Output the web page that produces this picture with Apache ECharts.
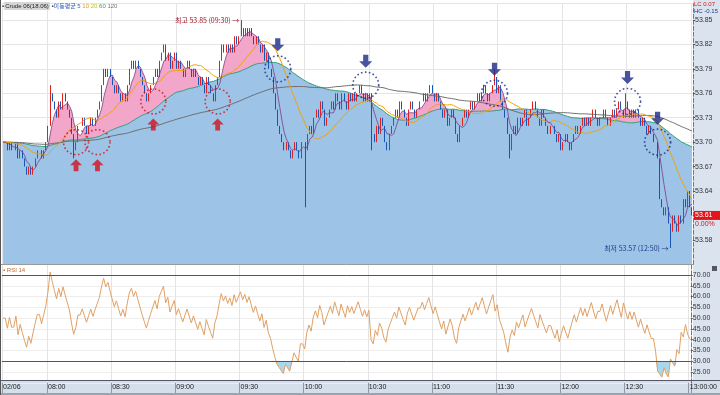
<!DOCTYPE html>
<html><head><meta charset="utf-8">
<script src="https://cdn.jsdelivr.net/npm/echarts@6/dist/echarts.min.js"></script>
<style>html,body{margin:0;padding:0;background:#fff}#c{width:720px;height:395px}</style>
</head><body><div id="c"></div>
<script>
// ---------- data ----------
const dateLabel = '02/06';
const startTime = '07:39';
const closes = [
53.70,53.70,53.69,53.70,53.69,53.69,53.70,53.68,53.69,53.68,53.67,53.66,53.67,53.66,
53.67,53.68,53.69,53.69,53.68,53.69,53.70,
53.72,53.76,53.75,
53.74,53.73,53.75,53.74,53.76,53.75,53.74,53.73,
53.71,53.69,53.70,
53.72,53.72,53.73,53.72,53.71,53.72,53.73,53.72,53.73,
53.74,53.75,
53.77,53.79,53.78,53.79,53.78,
53.77,53.76,53.77,53.76,53.75,53.76,53.75,
53.77,53.79,53.80,53.79,53.80,53.79,53.78,
53.77,53.76,53.75,53.76,
53.77,53.78,53.79,53.78,53.80,
53.81,53.82,53.80,53.81,53.79,53.80,53.81,
53.79,53.80,53.79,53.78,53.79,53.80,53.79,53.78,53.79,53.78,53.77,53.78,
53.77,53.76,53.78,53.77,53.76,53.75,53.77,
53.78,53.80,53.82,53.81,53.82,53.81,53.82,
53.81,53.83,53.82,53.83,53.84,53.83,53.84,
53.83,53.84,53.83,53.82,
53.83,53.82,53.81,53.82,53.80,53.81,53.79,
53.78,53.76,53.74,53.72,53.71,53.70,53.69,
53.70,53.69,53.68,53.69,53.70,53.69,53.68,
53.70,53.70,53.69,53.71,53.72,53.71,53.73,
53.74,53.73,53.75,53.74,53.72,53.73,53.74,
53.75,53.74,53.76,53.75,53.74,53.76,53.75,53.74,53.76,53.75,
53.76,53.75,53.76,53.77,53.76,53.75,53.76,53.75,53.76,
53.71,53.70,53.72,53.71,53.73,53.72,53.70,53.69,53.71,
53.72,53.73,53.74,53.73,53.75,53.74,53.73,53.72,53.74,53.75,53.74,53.73,53.74,53.75,
53.75,53.76,53.75,53.76,53.77,53.76,53.75,53.76,53.75,53.74,
53.73,53.74,53.72,53.73,53.74,53.73,53.71,53.70,53.72,53.73,53.74,53.73,53.74,53.75,
53.74,53.75,53.76,53.75,53.76,53.77,53.76,53.75,53.76,
53.77,53.78,53.76,53.77,53.75,
53.74,53.73,53.71,53.69,53.71,53.72,53.71,53.73,53.72,
53.73,53.74,53.72,53.73,53.74,53.75,53.74,53.73,53.72,53.74,53.73,53.72,53.71,53.72,
53.72,53.71,53.70,53.71,53.69,53.70,53.71,53.70,53.69,53.70,53.71,53.72,53.71,53.72,
53.73,53.72,53.73,53.72,53.73,53.74,53.73,53.72,53.73,
53.73,53.74,53.73,53.72,53.73,53.74,53.73,53.74,53.75,53.74,
53.73,53.75,53.74,53.73,53.74,53.73,53.74,53.73,53.72,
53.73,53.72,53.71,53.72,
53.71,53.70,53.70,53.68,53.63,
53.62,53.61,53.62,53.60,53.59,53.61,
53.60,53.59,53.61,53.60,
53.63,53.62,53.64,53.62,53.61
];
// average price level before the visible window (at the left edge)
const priorLevel = 53.70;
// visible wicks beyond the bodies (bar index -> price)
const wickHighs = {22:53.77, 75:53.82, 111:53.85, 229:53.79, 290:53.76};
const wickLows  = {33:53.68, 141:53.62, 172:53.69, 236:53.68, 311:53.57};
// trade signals (bar index, price)
const buyIdx = [34, 44, 70, 100];
const buyPrice = [53.70, 53.70, 53.75, 53.75];
const sellIdx = [128, 169, 229, 291, 305];
const sellPrice = [53.79, 53.77, 53.76, 53.75, 53.70];
const priceTicks = {min:53.55, max:53.87, step:0.03};
const rsiTicks = {min:20, max:75, step:5};
const changePct = '0.00%';
const headerLeft = 'Crude 06(18.06)';
const maPeriods = [5, 10, 20, 60, 120];

// ---------- derived ----------
const [sh, sm] = startTime.split(':').map(Number);
const times = closes.map((_, i) => { const m = sh*60+sm+i; return String(Math.floor(m/60)).padStart(2,'0')+':'+String(m%60).padStart(2,'0'); });
const candles = closes.map((c, i) => {
  const o = i === 0 ? c : closes[i-1];
  let lo = Math.min(o, c), hi = Math.max(o, c);
  if (wickLows[i] !== undefined) lo = Math.min(lo, wickLows[i]);
  if (wickHighs[i] !== undefined) hi = Math.max(hi, wickHighs[i]);
  return [o, c, lo, hi];
});
function ma(n){ return closes.map((_, i) => { const s = Math.max(0, i-n+1); let t=0; for(let k=s;k<=i;k++) t+=closes[k]; t += (n-(i-s+1))*priorLevel; return +(t/n).toFixed(4); }); }
const ma5 = ma(5), ma20 = ma(20), ma60 = ma(60), ma120 = ma(120);
const pinkDiff = ma5.map((v, i) => Math.max(0, +(v - ma60[i]).toFixed(4)));
function rsiCalc(c, n){ let ag=0.004, al=0.004; const out=[50]; for(let i=1;i<c.length;i++){ const d=c[i]-c[i-1]; ag=(ag*(n-1)+Math.max(d,0))/n; al=(al*(n-1)+Math.max(-d,0))/n; out.push(+(100*ag/(ag+al)).toFixed(2)); } return out; }
const rsi = rsiCalc(closes, 14);
const rsiLow = rsi.map(v => Math.min(v, 30));
const rsiFill = rsi.map(v => +(30 - Math.min(v, 30)).toFixed(2));
let maxI = 0, minI = 0;
candles.forEach((k, i) => { if (k[3] > candles[maxI][3]) maxI = i; if (k[2] < candles[minI][2]) minI = i; });
const last = closes[closes.length-1];
const isMark = (i) => i === 0 || (parseInt(times[i].slice(3)) % 30 === 0);

const FONT = 'Liberation Sans, Noto Sans CJK KR, sans-serif';
const KFONT = 'Noto Sans CJK KR, sans-serif';
const upArrow = 'path://M5,0 L10,5 L7,5 L7,10 L3,10 L3,5 L0,5 Z';
const downArrow = 'path://M3,0 L7,0 L7,5 L10,5 L5,10 L0,5 L3,5 Z';

const chart = echarts.init(document.getElementById('c'), null, {renderer:'canvas'});
chart.setOption({
  animation: false,
  textStyle: {fontFamily: FONT},
  grid: [
    {left: 2, right: 27, top: 3.7, height: 260.6},
    {left: 2, right: 27, top: 264.2, height: 118.6}
  ],
  xAxis: [
    {type:'category', gridIndex:0, data:times, boundaryGap:true,
     axisLine:{show:false}, axisTick:{show:false}, axisLabel:{show:false},
     splitLine:{show:true, interval:(i)=>isMark(i), lineStyle:{color:'#e4e4e4', width:1}}},
    {type:'category', gridIndex:1, data:times, boundaryGap:true,
     axisLine:{show:false},
     axisTick:{show:true, interval:(i)=>isMark(i), length:11, lineStyle:{color:'#8a98a8'}},
     axisLabel:{show:true, interval:(i)=>isMark(i), fontSize:7, color:'#222', margin:1, align:'left',
       formatter:(v, i)=> i===0 ? dateLabel : (i===times.length-1 ? v+':00' : v)},
     splitLine:{show:true, interval:(i)=>isMark(i), lineStyle:{color:'#e4e4e4', width:1}}}
  ],
  yAxis: [
    {type:'value', gridIndex:0, position:'right', min:priceTicks.min, max:priceTicks.max, interval:priceTicks.step,
     axisLine:{show:true, lineStyle:{color:'#777', type:'dashed'}},
     axisTick:{show:true, length:2, lineStyle:{color:'#555'}},
     axisLabel:{fontSize:7, color:'#333', margin:2, showMinLabel:false, showMaxLabel:false, formatter:v=>v.toFixed(2)},
     splitLine:{show:true, lineStyle:{color:'#e4e4e4'}}},
    {type:'value', gridIndex:1, position:'right', min:rsiTicks.min, max:rsiTicks.max, interval:rsiTicks.step,
     axisLine:{show:true, lineStyle:{color:'#777', type:'dashed'}},
     axisTick:{show:true, length:2, lineStyle:{color:'#555'}},
     axisLabel:{fontSize:7, color:'#333', margin:2, showMinLabel:false, showMaxLabel:false, formatter:v=>v.toFixed(2)},
     splitLine:{show:true, lineStyle:{color:'#ededed'}}}
  ],
  series: [
    {type:'line', xAxisIndex:0, yAxisIndex:0, data:ma60, stack:'band', symbol:'none', z:1,
     lineStyle:{color:'#2f9d78', width:1}, areaStyle:{color:'#9dc3e7', opacity:1, origin:'start'}},
    {type:'line', xAxisIndex:0, yAxisIndex:0, data:pinkDiff, stack:'band', symbol:'none', z:1,
     lineStyle:{width:0, opacity:0}, areaStyle:{color:'#f2a6c9', opacity:1}},
    {type:'candlestick', xAxisIndex:0, yAxisIndex:0, data:candles, z:3, barWidth:1,
     itemStyle:{color:'#e3211c', color0:'#1656b6', borderColor:'#e3211c', borderColor0:'#1656b6', borderWidth:1},
     markPoint:{symbolSize:0, silent:true, data:[
       {coord:[maxI, candles[maxI][3]], label:{show:true, position:'left', distance:2, fontSize:7, color:'#a2162c', fontFamily:KFONT,
         formatter:'최고 '+candles[maxI][3].toFixed(2)+' ('+times[maxI]+') →'}},
       {coord:[minI, candles[minI][2]], label:{show:true, position:'left', distance:2, fontSize:7, color:'#1f3a8a', fontFamily:KFONT,
         formatter:'최저 '+candles[minI][2].toFixed(2)+' ('+times[minI]+') →'}}
     ]},
     markLine:{symbol:'none', silent:true, lineStyle:{color:'rgba(0,0,0,0)', width:0}, data:[{yAxis:last}],
       label:{show:true, position:'end', distance:1, padding:[9,0,0,0],
         formatter:'{a|'+last.toFixed(2)+'}\n{b|'+changePct+'}',
         rich:{a:{backgroundColor:'#e0161c', color:'#fff', fontSize:7, width:25, padding:[1,0,1,1], lineHeight:9},
               b:{color:'#d0161c', fontSize:7, lineHeight:9, padding:[0,0,0,1]}}}}},
    {type:'line', xAxisIndex:0, yAxisIndex:0, data:ma120, symbol:'none', z:4, lineStyle:{color:'#6e6e6e', width:1}},
    {type:'line', xAxisIndex:0, yAxisIndex:0, data:ma20, symbol:'none', z:4, lineStyle:{color:'#f0a20c', width:1}},
    {type:'line', xAxisIndex:0, yAxisIndex:0, data:ma5, symbol:'none', z:4, lineStyle:{color:'#7c3d86', width:0.8}},
    {type:'scatter', xAxisIndex:0, yAxisIndex:0, z:5, symbol:'circle', symbolSize:25,
     data:buyIdx.map((x,i)=>[x, buyPrice[i]]),
     itemStyle:{color:'rgba(0,0,0,0)', borderColor:'#c8141c', borderWidth:1.6, borderType:[1.6,2.4]}},
    {type:'scatter', xAxisIndex:0, yAxisIndex:0, z:5, symbol:'circle', symbolSize:26,
     data:sellIdx.map((x,i)=>[x, sellPrice[i]]),
     itemStyle:{color:'rgba(0,0,0,0)', borderColor:'#1a2a86', borderWidth:1.6, borderType:[1.6,2.4]}},
    {type:'scatter', xAxisIndex:0, yAxisIndex:0, z:5, symbol:upArrow, symbolSize:[12,12], symbolOffset:[0,23],
     data:buyIdx.map((x,i)=>[x, buyPrice[i]]), itemStyle:{color:'#d0141c'}},
    {type:'scatter', xAxisIndex:0, yAxisIndex:0, z:5, symbol:downArrow, symbolSize:[13,13], symbolOffset:[0,-24],
     data:sellIdx.map((x,i)=>[x, sellPrice[i]]), itemStyle:{color:'#1a2a86'}},
    // RSI
    {type:'line', xAxisIndex:1, yAxisIndex:1, data:rsiLow, stack:'rsi', symbol:'none', lineStyle:{opacity:0}, z:1},
    {type:'line', xAxisIndex:1, yAxisIndex:1, data:rsiFill, stack:'rsi', symbol:'none', lineStyle:{opacity:0}, z:1,
     areaStyle:{color:'#a9d8ec', opacity:1}},
    {type:'line', xAxisIndex:1, yAxisIndex:1, data:rsi, symbol:'none', z:3, lineStyle:{color:'#e0a064', width:1},
     markLine:{symbol:'none', silent:true, label:{show:false}, lineStyle:{color:'#555', width:1, type:'solid'},
       data:[{yAxis:70},{yAxis:30}]}}
  ],
  graphic: [
    {type:'rect', z:-100, shape:{x:693, y:0, width:27, height:395}, style:{fill:'#dbe4ee'}},
    {type:'rect', z:-99, shape:{x:0, y:380, width:720, height:13}, style:{fill:'#d4dfeb'}},
    {type:'line', z:50, shape:{x1:0, y1:380.5, x2:720, y2:380.5}, style:{stroke:'#556', lineWidth:1}},
    {type:'rect', z:50, shape:{x:0, y:393, width:720, height:2}, style:{fill:'#9aa4b0'}},
    {type:'line', z:50, shape:{x1:0, y1:264.5, x2:693, y2:264.5}, style:{stroke:'#9a9a9a', lineWidth:1}},
    {type:'line', z:50, shape:{x1:0.5, y1:0, x2:0.5, y2:395}, style:{stroke:'#555', lineWidth:1}},
    {type:'text', z:60, left:2, top:2, style:{
      text:'{d|▪}{g|'+headerLeft+'}{d| ▪}{k|이동평균}{m5| '+maPeriods[0]+'}{m10| '+maPeriods[1]+'}{m20| '+maPeriods[2]+'}{m60| '+maPeriods[3]+'}{m120| '+maPeriods[4]+'}',
      font:'6px '+FONT,
      rich:{
        d:{fill:'#444', font:'6px '+FONT},
        g:{fill:'#222', font:'6px '+FONT, backgroundColor:'#d6d6d6', padding:[1,1]},
        k:{fill:'#2a56b0', font:'6px '+KFONT},
        m5:{fill:'#3a62c0', font:'6px '+FONT},
        m10:{fill:'#e0a020', font:'6px '+FONT},
        m20:{fill:'#c8c020', font:'6px '+FONT},
        m60:{fill:'#2f9d78', font:'6px '+FONT},
        m120:{fill:'#777', font:'6px '+FONT}
      }}},
    {type:'text', z:60, left:3, top:267, style:{text:'▪ RSI 14', fill:'#c06a30', font:'6px '+FONT}},
    {type:'text', z:60, left:694, top:1, style:{text:'LC 0.07', fill:'#d0161c', font:'6px '+FONT}},
    {type:'text', z:60, left:694, top:8, style:{text:'HC -0.15', fill:'#1f3a8a', font:'6px '+FONT}},
    {type:'rect', z:60, shape:{x:712, y:266, width:5, height:5}, style:{fill:'#556'}}
  ]
});
</script></body></html>
